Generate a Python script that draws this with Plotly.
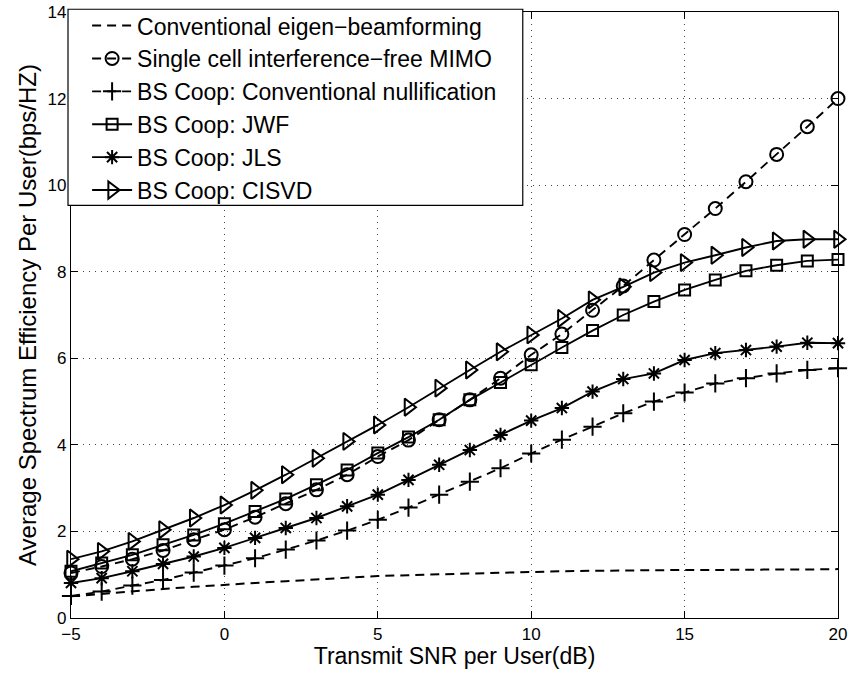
import plotly.graph_objects as go

snr = list(range(-5, 21))

eigen_bf = [0.50, 0.56, 0.62, 0.67, 0.72, 0.77, 0.81, 0.85, 0.89, 0.93, 0.97, 0.99, 1.01,
            1.03, 1.05, 1.07, 1.08, 1.09, 1.10, 1.10, 1.11, 1.11, 1.12, 1.12, 1.12, 1.13]
single_cell = [1.04, 1.19, 1.36, 1.56, 1.81, 2.04, 2.33, 2.64, 2.96, 3.31, 3.73, 4.11, 4.58,
               5.04, 5.54, 6.08, 6.56, 7.11, 7.67, 8.27, 8.86, 9.46, 10.08, 10.71, 11.35, 12.0]
conv_null = [0.51, 0.61, 0.75, 0.88, 1.05, 1.21, 1.38, 1.58, 1.79, 2.02, 2.27, 2.55, 2.85,
             3.15, 3.46, 3.80, 4.12, 4.42, 4.73, 5.00, 5.21, 5.42, 5.54, 5.65, 5.73, 5.77]
jwf = [1.08, 1.27, 1.46, 1.69, 1.92, 2.18, 2.46, 2.75, 3.08, 3.42, 3.81, 4.18, 4.58,
       5.04, 5.44, 5.85, 6.25, 6.64, 7.00, 7.31, 7.58, 7.81, 8.02, 8.15, 8.25, 8.28]
jls = [0.81, 0.92, 1.08, 1.25, 1.42, 1.62, 1.85, 2.08, 2.31, 2.58, 2.85, 3.19, 3.54,
       3.88, 4.23, 4.56, 4.85, 5.23, 5.52, 5.65, 5.96, 6.12, 6.19, 6.27, 6.36, 6.35]
cisvd = [1.36, 1.54, 1.77, 2.04, 2.31, 2.61, 2.95, 3.31, 3.69, 4.08, 4.46, 4.87, 5.31,
         5.73, 6.15, 6.54, 6.92, 7.35, 7.65, 7.98, 8.21, 8.38, 8.56, 8.71, 8.75, 8.75]

names = ["Conventional eigen\u2212beamforming",
         "Single cell interference\u2212free MIMO",
         "BS Coop: Conventional nullification",
         "BS Coop: JWF",
         "BS Coop: JLS",
         "BS Coop: CISVD"]

FONT = "Liberation Sans, Arial, Helvetica, sans-serif"
DASH = "9px,6px"

fig = go.Figure()

series = [
    (eigen_bf, names[0], DASH, None, 0),
    (single_cell, names[1], DASH, "circle-open", 13),
    (conv_null, names[2], DASH, "cross-thin-open", 13),
    (jwf, names[3], "solid", "square-open", 11),
    (jls, names[4], "solid", "asterisk-open", 12),
    (cisvd, names[5], "solid", "triangle-right-open", 15),
]

for ys, nm, dash, sym, sz in series:
    if sym is None:
        fig.add_trace(go.Scatter(
            x=snr, y=ys, name=nm, mode="lines",
            line=dict(color="black", width=2, dash=dash),
            cliponaxis=False))
    else:
        fig.add_trace(go.Scatter(
            x=snr, y=ys, name=nm, mode="lines+markers",
            line=dict(color="black", width=1.9, dash=dash),
            marker=dict(symbol=sym, size=sz, color="black",
                        line=dict(color="black", width=2)),
            cliponaxis=False))

axis_common = dict(
    showline=True, linecolor="black", linewidth=1.2, mirror="ticks",
    ticks="inside", ticklen=7, tickcolor="black", tickwidth=1,
    showgrid=True, gridcolor="#444", griddash="1px,5px", gridwidth=1,
    zeroline=False, automargin=False,
    tickfont=dict(family=FONT, size=17, color="black"),
)

fig.update_xaxes(
    range=[-5, 20], tickvals=[-5, 0, 5, 10, 15, 20],
    title=dict(text="Transmit SNR per User(dB)", standoff=2,
               font=dict(family=FONT, size=23, color="black")),
    **axis_common)
fig.update_yaxes(
    range=[0, 14], tickvals=[0, 2, 4, 6, 8, 10, 12, 14],
    title=dict(text="Average Spectrum Efficiency Per User(bps/HZ)", standoff=4,
               font=dict(family=FONT, size=24, color="black")),
    **axis_common)

# legend frame (white box with black border, like the MATLAB legend)
fig.add_shape(type="rect", xref="paper", yref="paper",
              x0=-0.0039, x1=0.589, y0=0.681, y1=1.0045,
              fillcolor="white", line=dict(color="black", width=1.2),
              layer="above")

fig.update_layout(
    width=849, height=673,
    margin=dict(l=71, r=11, t=12, b=55, autoexpand=False),
    plot_bgcolor="white", paper_bgcolor="white",
    font=dict(family=FONT, color="black"),
    legend=dict(
        x=0.021, y=1.013, xanchor="left", yanchor="top",
        bgcolor="rgba(0,0,0,0)", borderwidth=0,
        font=dict(family=FONT, size=23, color="black"),
        itemwidth=40, tracegroupgap=0,
    ),
    showlegend=True,
)

# remove the default 8px page margin so the figure fills the window exactly
fig.write_html("out.html",
               config={"displayModeBar": False},
               post_script="document.body.style.margin='0';"
                           "document.body.style.overflow='hidden';")
